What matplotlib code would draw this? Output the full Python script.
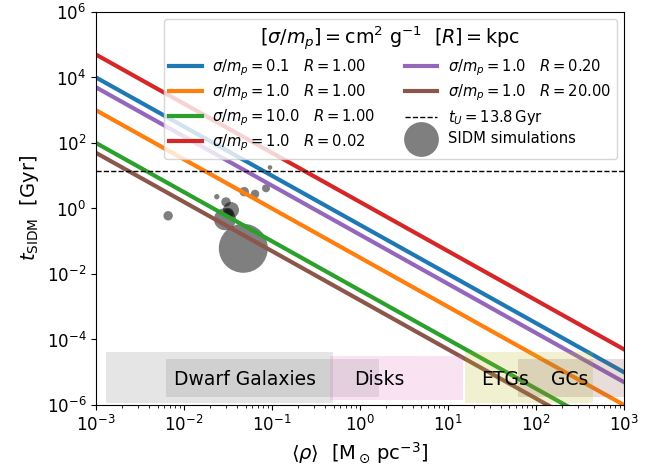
import numpy as np
import matplotlib
matplotlib.use("Agg")
import matplotlib.pyplot as plt

plt.rcParams["font.size"] = 12

# Self-interaction timescale lines: value of t_SIDM [Gyr] at each end of the density range
rho_ends = [1e-3, 1e3]
sigma_m = [0.1, 1.0, 10.0, 1.0, 1.0, 1.0]
R_kpc = [1.00, 1.00, 1.00, 0.02, 0.20, 20.00]
t_at_rho_lo = [1e4, 1e3, 1e2, 5e4, 5e3, 5e1]
t_at_rho_hi = [1e-5, 1e-6, 1e-7, 5e-5, 5e-6, 5e-8]
line_colors = ["tab:blue", "tab:orange", "tab:green", "tab:red", "tab:purple", "tab:brown"]

t_universe = 13.8

# SIDM simulation results: mean density, timescale, marker area
sim_rho = [0.0066, 0.0236, 0.030, 0.0342, 0.0321, 0.0292, 0.0472, 0.0484, 0.0641, 0.0855, 0.0948]
sim_t = [0.60, 2.29, 1.58, 0.90, 0.73, 0.47, 0.061, 3.26, 2.77, 4.14, 17.9]
sim_size = [46, 15, 46, 133, 52, 251, 1245, 46, 38, 33, 11]

# Density ranges of object classes
class_rho_lo = [1.3e-3, 6.2e-3, 0.456, 15.6, 62.0]
class_rho_hi = [0.49, 1.65, 14.7, 445.0, 3000.0]
class_colors = ["tab:gray", "tab:gray", "tab:pink", "tab:olive", "tab:brown"]
label_names = ["Dwarf Galaxies", "Disks", "ETGs", "GCs"]
label_rho = [0.0487, 1.64, 44.5, 243.0]

fig = plt.figure(figsize=(6.7, 4.7), dpi=100)
ax = fig.add_axes([0.1433, 0.1383, 0.788, 0.8362])

for s, r, t0, t1, c in zip(sigma_m, R_kpc, t_at_rho_lo, t_at_rho_hi, line_colors):
    ax.plot(rho_ends, [t0, t1], color=c, lw=3,
            label=rf"$\sigma/m_p = {s:.1f} \quad R = {r:.2f}$")

ax.axhline(t_universe, color="k", ls="--", lw=1,
           label=rf"$t_U = {t_universe}\,\mathrm{{Gyr}}$")

ax.scatter(sim_rho, sim_t, s=sim_size, color="k", alpha=0.5, linewidths=0,
           label="SIDM simulations")

# shaded bands for the object classes
band_y = [(0.005, 0.134), (0.021, 0.117), (0.013, 0.125), (0.005, 0.134), (0.021, 0.117)]
for lo, hi, c, (y0, y1) in zip(class_rho_lo, class_rho_hi, class_colors, band_y):
    ax.axvspan(lo, hi, ymin=y0, ymax=y1, color=c, alpha=0.2, lw=0, zorder=2.5)

for name, x in zip(label_names, label_rho):
    ax.text(x, 0.066, name, transform=ax.get_xaxis_transform(),
            ha="center", va="center", fontsize=13.5, zorder=3)

ax.set_xscale("log")
ax.set_yscale("log")
ax.set_xlim(1e-3, 1e3)
ax.set_ylim(1e-6, 1e6)
ax.set_yticks([1e-6, 1e-4, 1e-2, 1e0, 1e2, 1e4, 1e6])
ax.yaxis.set_minor_locator(matplotlib.ticker.NullLocator())
ax.tick_params(labelsize=12)

ax.set_xlabel(r"$\langle\rho\rangle\ \ [\mathrm{M}_\odot\,\mathrm{pc}^{-3}]$", fontsize=14)
ax.set_ylabel(r"$t_{\mathrm{SIDM}}\ \ [\mathrm{Gyr}]$", fontsize=14)

ax.legend(loc="upper right", ncol=2, fontsize=10.6, labelspacing=0.3,
          handlelength=2.2, handletextpad=0.7,
          title=r"$[\sigma/m_p] = \mathrm{cm}^2\ \mathrm{g}^{-1}\ \ [R] = \mathrm{kpc}$",
          title_fontsize=13.8)

fig.savefig("out.png", dpi=100)
